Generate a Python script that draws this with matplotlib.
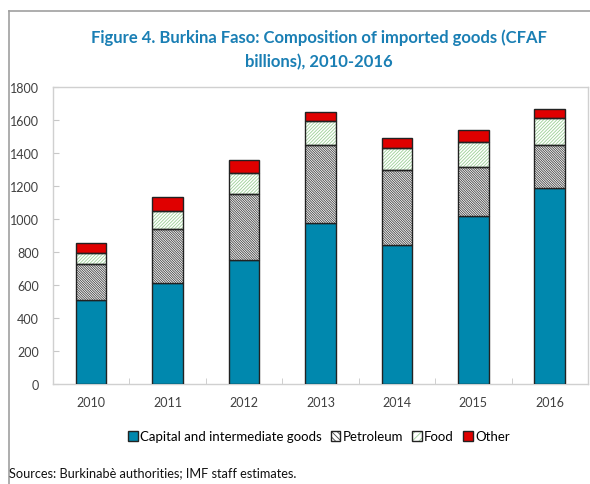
import matplotlib

matplotlib.use("Agg")
import matplotlib.pyplot as plt
import numpy as np
from matplotlib.lines import Line2D
from matplotlib.patches import Patch
from matplotlib.legend_handler import HandlerTuple

years = ["2010", "2011", "2012", "2013", "2014", "2015", "2016"]
capital = [511, 614, 751, 976, 844, 1018, 1190]
petroleum = [218, 327, 403, 470, 453, 299, 260]
food = [67, 107, 123, 146, 135, 152, 160]
other = [59, 85, 81, 56, 61, 72, 57]

BLUE = "#0088ae"
RED = "#e00000"
GREEN_HATCH = "#9ccf97"
TITLE_COLOR = "#1a7fb4"
PET_HATCH = "\\" * 14
FOOD_HATCH = "/" * 10

plt.rcParams["font.family"] = ["Lato", "DejaVu Sans"]
plt.rcParams["hatch.linewidth"] = 0.6

fig = plt.figure(figsize=(5.9, 4.85), dpi=100)
ax = fig.add_axes([0.0898, 0.2062, 0.9068, 0.6124])

x = np.arange(len(years))
w = 0.4
cap = np.array(capital)
pet = np.array(petroleum)
fd = np.array(food)
oth = np.array(other)

ax.bar(x, cap, w, color=BLUE, edgecolor="#222222", linewidth=1.0, zorder=3)
# hatched layers: fill + hatch first, then a plain outline on top
ax.bar(x, pet, w, bottom=cap, color="white", edgecolor="#444444",
       hatch=PET_HATCH, linewidth=0, zorder=3)
ax.bar(x, pet, w, bottom=cap, fill=False, edgecolor="#222222", linewidth=1.0, zorder=4)
ax.bar(x, fd, w, bottom=cap + pet, color="white", edgecolor=GREEN_HATCH,
       hatch=FOOD_HATCH, linewidth=0, zorder=3)
ax.bar(x, fd, w, bottom=cap + pet, fill=False, edgecolor="#222222", linewidth=1.0, zorder=4)
ax.bar(x, oth, w, bottom=cap + pet + fd, color=RED, edgecolor="#222222",
       linewidth=1.0, zorder=3)

ax.set_xlim(-0.5, 6.5)
ax.set_ylim(0, 1800)
ax.set_yticks(np.arange(0, 1801, 200))
ax.set_xticks(x)
ax.set_xticklabels(years)
ax.set_xticks(np.arange(0.5, 6, 1), minor=True)
ax.tick_params(axis="x", which="major", length=0, pad=9, labelsize=9, labelcolor="#404040")
ax.tick_params(axis="x", which="minor", length=4, direction="in", color="#c8c8c8")
ax.tick_params(axis="y", length=4, direction="in", color="#c8c8c8", pad=10,
               labelsize=9, labelcolor="#404040")
for s in ax.spines.values():
    s.set_color("#d0d0d0")
    s.set_linewidth(1.0)

fig.text(0.54, 0.897, "Figure 4. Burkina Faso: Composition of imported goods (CFAF\nbillions), 2010-2016",
         ha="center", va="center", fontsize=12, fontweight="bold", color=TITLE_COLOR,
         linespacing=1.55)

h_cap = Patch(facecolor=BLUE, edgecolor="#222222", linewidth=1.0)
h_pet = (Patch(facecolor="white", edgecolor="#444444", hatch="\\" * 6, linewidth=0),
         Patch(fill=False, edgecolor="#222222", linewidth=1.0))
h_food = (Patch(facecolor="white", edgecolor=GREEN_HATCH, hatch="/" * 5, linewidth=0),
          Patch(fill=False, edgecolor="#222222", linewidth=1.0))
h_oth = Patch(facecolor=RED, edgecolor="#222222", linewidth=1.0)
fig.legend([h_cap, h_pet, h_food, h_oth],
           ["Capital and intermediate goods", "Petroleum", "Food", "Other"],
           handler_map={tuple: HandlerTuple(ndivide=1)},
           loc="center", bbox_to_anchor=(0.54, 0.098), ncol=4, frameon=False,
           fontsize=9.5, handlelength=0.75, handleheight=0.75, handletextpad=0.15,
           columnspacing=0.7)

fig.text(0.015, 0.024, "Sources: Burkinabè authorities; IMF staff estimates.",
         ha="left", va="center", fontsize=9.2, color="#111111")

# outer frame (left and top edges)
fig.add_artist(Line2D([0.0153, 0.0153], [0, 0.975], transform=fig.transFigure,
                      color="#a0a0a0", linewidth=1.2))
fig.add_artist(Line2D([0.0153, 1.0], [0.975, 0.975], transform=fig.transFigure,
                      color="#a0a0a0", linewidth=1.2))

fig.savefig("out.png", dpi=100)
